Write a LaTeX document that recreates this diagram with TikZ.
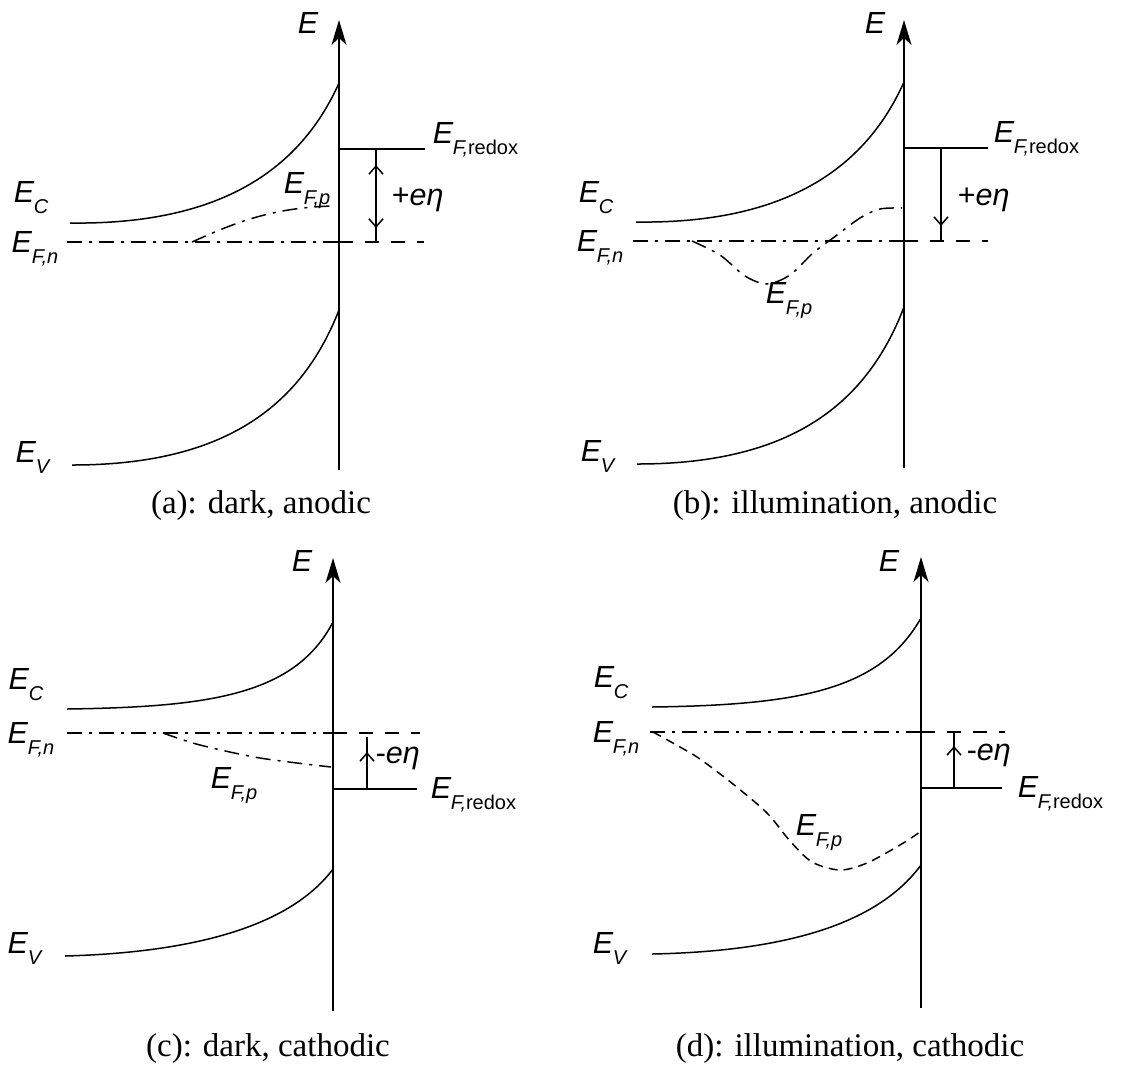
\documentclass[tikz,border=0pt]{standalone}
\usepackage{fontspec}
\setmainfont{Liberation Serif}
\newfontfamily\lsans{Liberation Sans}
\usetikzlibrary{arrows.meta}
\newcommand{\Esub}[1]{\textit{E}\kern-0.5pt\raisebox{-11pt}{\fontsize{20}{20}\selectfont #1}}
\begin{document}
\begin{tikzpicture}[x=1pt,y=-1pt, line width=1.5pt,
 lbl/.style={font=\lsans\fontsize{30.5}{32}\selectfont, inner sep=0pt, anchor=base west},
 captext/.style={font=\fontsize{33}{36}\selectfont, inner sep=0pt, anchor=base},
 axisline/.style={-{Stealth[length=25pt,width=15pt,inset=7pt]}},
 dashdot/.style={dash pattern=on 15pt off 7pt on 3pt off 7pt},
 dashr/.style={dash pattern=on 14pt off 12pt},
 dashd/.style={dash pattern=on 9pt off 6pt},
 barb/.style={-{Straight Barb[length=8pt,width=14pt]}}]
\useasboundingbox (0,0) rectangle (1121,1072);
% ---------- (a)
\draw[axisline] (339,470) -- (339,20);
\node[lbl] (Ea) at (297,33) {\textit{E}};
\draw (70,223) .. controls (220,225) and (300,170) .. (339,83);
\draw (72,465) .. controls (220,465) and (300,410) .. (339,310);
\draw[dashdot] (67,242) -- (339,242);
\draw[dashr] (339,242) -- (424,242);
\draw (339,149) -- (425,149);
\draw[dashdot] (192,242) .. controls (230,225) and (270,207) .. (335,206);
\draw (376,149) -- (376,242);
\draw[barb] (376,200) -- (376,165);
\draw[barb] (376,200) -- (376,228);
\node[lbl] (aEC) at (13,202) {\Esub{\textit{C}}};
\node[lbl] (aEFn) at (11,252) {\Esub{\textit{F,n}}};
\node[lbl] (aEV) at (15,462) {\Esub{\textit{V}}};
\node[lbl] (aEFp) at (283,193) {\Esub{\textit{F,p}}};
\node[lbl] (aRed) at (432,143) {\Esub{\textit{F,}redox}};
\node[lbl,anchor=west] (aEta) at (391,200) {+\textit{eη}};
\node[captext] (aCap) at (261,513) {(a): dark, anodic};
% ---------- (b)
\draw[axisline] (904,468) -- (904,20);
\node[lbl] (Eb) at (864,33) {\textit{E}};
\draw (636,222) .. controls (785,224) and (865,169) .. (904,82);
\draw (637,464) .. controls (785,464) and (865,409) .. (904,307);
\draw[dashdot] (633,241) -- (904,241);
\draw[dashr] (904,241) -- (988,241);
\draw (904,148) -- (988,148);
\draw[dashdot] plot[smooth] coordinates {(692,241) (720,255) (745,276) (767,284) (790,275) (813,253) (833,238) (860,218) (880,209) (902,208)};
\draw (941,148) -- (941,241);
\draw[barb] (941,200) -- (941,226);
\node[lbl] (bEC) at (578,202) {\Esub{\textit{C}}};
\node[lbl] (bEFn) at (576,251) {\Esub{\textit{F,n}}};
\node[lbl] (bEV) at (580,461) {\Esub{\textit{V}}};
\node[lbl] (bEFp) at (765,303) {\Esub{\textit{F,p}}};
\node[lbl] (bRed) at (993,142) {\Esub{\textit{F,}redox}};
\node[lbl,anchor=west] (bEta) at (957,200) {+\textit{eη}};
\node[captext] (bCap) at (835,513) {(b): illumination, anodic};
% ---------- (c)
\draw[axisline] (333,1011) -- (333,558);
\node[lbl] (Ec) at (291,571) {\textit{E}};
\draw (67,709) .. controls (210,707) and (295,695) .. (333,622);
\draw (65,956) .. controls (210,952) and (295,920) .. (333,869);
\draw[dashdot] (67,733) -- (333,733);
\draw[dashr] (333,733) -- (420,733);
\draw[dashdot] plot[smooth] coordinates {(163,733) (200,745) (260,758) (331,767)};
\draw (333,789) -- (417,789);
\draw (367,789) -- (367,737);
\draw[barb] (367,775) -- (367,752);
\node[lbl] (cEC) at (8,689) {\Esub{\textit{C}}};
\node[lbl] (cEFn) at (7,743) {\Esub{\textit{F,n}}};
\node[lbl] (cEV) at (7,953) {\Esub{\textit{V}}};
\node[lbl] (cEFp) at (210,788) {\Esub{\textit{F,p}}};
\node[lbl] (cRed) at (430,798) {\Esub{\textit{F,}redox}};
\node[lbl,anchor=west] (cEta) at (375,758) {-\textit{eη}};
\node[captext] (cCap) at (268,1056) {(c): dark, cathodic};
% ---------- (d)
\draw[axisline] (921,1008) -- (921,557);
\node[lbl] (Ed) at (878,571) {\textit{E}};
\draw (652,707) .. controls (800,705) and (880,690) .. (921,618);
\draw (652,954) .. controls (800,951) and (882,918) .. (921,865);
\draw[dashdot] (650,732) -- (921,732);
\draw[dashr] (921,732) -- (1005,732);
\draw[dashd] plot[smooth] coordinates {(653,732) (680,747) (700,759) (733,784) (767,813) (790,841) (812,862) (840,870) (867,863) (900,845) (920,832)};
\draw (921,788) -- (1002,788);
\draw (954,788) -- (954,733);
\draw[barb] (954,775) -- (954,746);
\node[lbl] (dEC) at (593,687) {\Esub{\textit{C}}};
\node[lbl] (dEFn) at (592,742) {\Esub{\textit{F,n}}};
\node[lbl] (dEV) at (592,953) {\Esub{\textit{V}}};
\node[lbl] (dEFp) at (795,835) {\Esub{\textit{F,p}}};
\node[lbl] (dRed) at (1017,797) {\Esub{\textit{F,}redox}};
\node[lbl,anchor=west] (dEta) at (966,755) {-\textit{eη}};
\node[captext] (dCap) at (850,1056) {(d): illumination, cathodic};
\end{tikzpicture}
\end{document}
